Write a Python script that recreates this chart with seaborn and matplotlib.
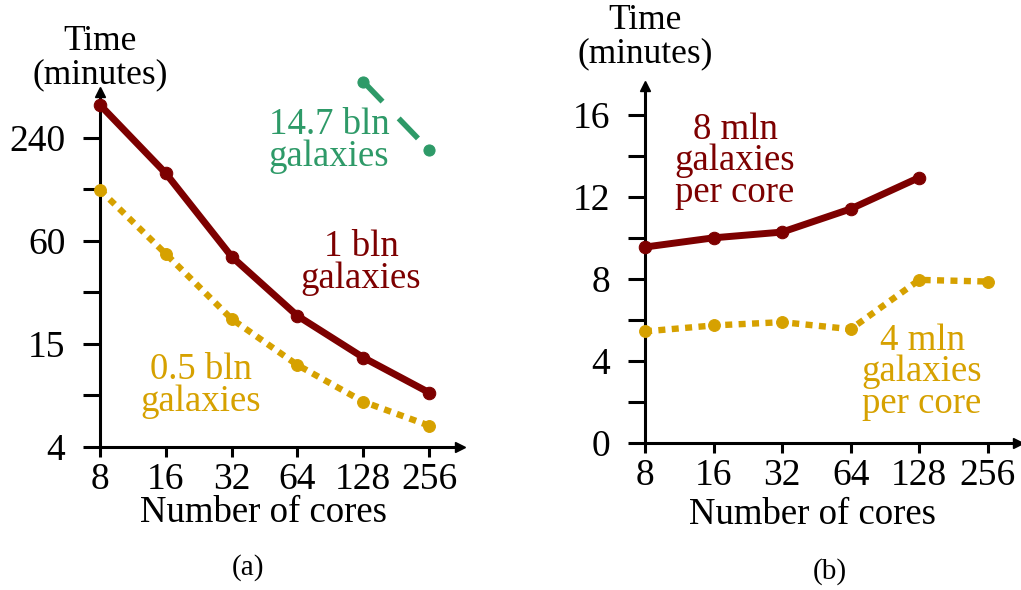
import numpy as np
import pandas as pd
import seaborn as sns
import matplotlib.pyplot as plt
from matplotlib.ticker import FixedLocator, NullLocator, FixedFormatter

# data
cores = [8, 16, 32, 64, 128, 256]
time_1bln = [374, 149, 48.6, 21.9, 12.5, 7.8]
time_05bln = [119, 50.4, 21.0, 11.3, 6.9, 5.0]
cores_147 = [128, 256]
time_147bln = [512, 204]
per_core_8mln = [9.55, 10.0, 10.28, 11.41, 12.94]
per_core_4mln = [5.44, 5.73, 5.89, 5.55, 7.95, 7.87]

left_ticks = [3.75, 7.5, 15, 30, 60, 120, 240]
left_labels = ['4', '', '15', '', '60', '', '240']
right_ticks = [0, 2, 4, 6, 8, 10, 12, 14, 16]
right_labels = ['0', '', '4', '', '8', '', '12', '', '16']

RED = '#7d0000'
GOLD = '#d6a100'
GREEN = '#2e9a68'

sns.set_style("ticks")
plt.rcParams['font.family'] = ['Liberation Serif', 'DejaVu Serif']
plt.rcParams['text.color'] = 'black'
FS = 26.5
TFS = 27

W, H = 1021, 590
fig = plt.figure(figsize=(W / 100, H / 100), dpi=100)


def px_axes(x0, x1, ybot, ytop):
    return fig.add_axes([x0 / W, 1 - ybot / H, (x1 - x0) / W, (ybot - ytop) / H])


def fx(x):
    return x / W


def fy(y):
    return 1 - y / H


ax1 = px_axes(100, 460, 447, 92)
ax2 = px_axes(645, 1018, 443, 86)

DOT = (0, (1.1, 1.0))

d1 = pd.DataFrame({'cores': cores, 'big': time_1bln, 'small': time_05bln})
sns.lineplot(data=d1, x='cores', y='big', ax=ax1, color=RED, lw=5,
             marker='o', ms=9, mec=RED, clip_on=False, zorder=3)
sns.lineplot(data=d1, x='cores', y='small', ax=ax1, color=GOLD, lw=4.6,
             ls=DOT, marker='o', ms=8.5, mec=GOLD, clip_on=False, zorder=3)
d1g = pd.DataFrame({'cores': cores_147, 't': time_147bln})
sns.lineplot(data=d1g, x='cores', y='t', ax=ax1, color=GREEN, lw=4.0,
             ls=(0, (5.0, 4.2)), marker='o', ms=8, mec=GREEN, clip_on=False, zorder=3)
for l in ax1.lines:
    l.set_dash_capstyle('butt')

d2 = pd.DataFrame({'cores': cores[:5], 't': per_core_8mln})
d3 = pd.DataFrame({'cores': cores, 't': per_core_4mln})
sns.lineplot(data=d2, x='cores', y='t', ax=ax2, color=RED, lw=5,
             marker='o', ms=9, mec=RED, clip_on=False, zorder=3)
sns.lineplot(data=d3, x='cores', y='t', ax=ax2, color=GOLD, lw=4.6,
             ls=DOT, marker='o', ms=8.5, mec=GOLD, clip_on=False, zorder=3)
for l in ax2.lines:
    l.set_dash_capstyle('butt')

ax1.set_xscale('log', base=2)
ax1.set_yscale('log', base=2)
ax1.set_xlim(8, 8 * 2 ** 5.47)
ax1.set_ylim(3.75, 445)
ax1.yaxis.set_major_locator(FixedLocator(left_ticks))
ax1.yaxis.set_major_formatter(FixedFormatter(left_labels))

ax2.set_xscale('log', base=2)
ax2.set_xlim(8, 8 * 2 ** 5.44)
ax2.set_ylim(0, 17.4)
ax2.yaxis.set_major_locator(FixedLocator(right_ticks))
ax2.yaxis.set_major_formatter(FixedFormatter(right_labels))

for ax in (ax1, ax2):
    ax.xaxis.set_major_locator(FixedLocator(cores))
    ax.xaxis.set_major_formatter(FixedFormatter([str(c) for c in cores]))
    ax.xaxis.set_minor_locator(NullLocator())
    ax.yaxis.set_minor_locator(NullLocator())
    ax.set_xlabel('')
    ax.set_ylabel('')
    ax.set_facecolor('none')
    sns.despine(ax=ax)
    for s in ('left', 'bottom'):
        ax.spines[s].set_linewidth(2.2)
        ax.spines[s].set_color('black')
    ax.tick_params(axis='y', length=12, width=2.2, pad=13, labelsize=TFS, colors='black')
    ax.tick_params(axis='x', length=7, width=2.2, pad=4, labelsize=TFS, colors='black')
    ax.plot(1, 0, '>k', ms=7, transform=ax.transAxes, clip_on=False)
    ax.plot(0, 1, '^k', ms=7, transform=ax.transAxes, clip_on=False)

# text labels
fig.text(fx(100), fy(58), 'Time\n(minutes)', ha='center', va='center',
         fontsize=25.5, linespacing=1.0)
fig.text(fx(645), fy(37), 'Time\n(minutes)', ha='center', va='center',
         fontsize=25.5, linespacing=1.0)
fig.text(fx(329), fy(141), '14.7 bln\ngalaxies', ha='center', va='center',
         fontsize=FS, color=GREEN, linespacing=0.92)
fig.text(fx(361), fy(263), '1 bln\ngalaxies', ha='center', va='center',
         fontsize=FS, color=RED, linespacing=0.92)
fig.text(fx(201), fy(386), '0.5 bln\ngalaxies', ha='center', va='center',
         fontsize=FS, color=GOLD, linespacing=0.92)
fig.text(fx(735), fy(161), '8 mln\ngalaxies\nper core', ha='center', va='center',
         fontsize=FS, color=RED, linespacing=0.88)
fig.text(fx(922), fy(372), '4 mln\ngalaxies\nper core', ha='center', va='center',
         fontsize=FS, color=GOLD, linespacing=0.88)
fig.text(fx(264), fy(513), 'Number of cores', ha='center', va='center', fontsize=FS)
fig.text(fx(812), fy(515), 'Number of cores', ha='center', va='center', fontsize=FS)
fig.text(fx(248), fy(568), '(a)', ha='center', va='center', fontsize=21)
fig.text(fx(830), fy(572), '(b)', ha='center', va='center', fontsize=21)

fig.savefig('out.png', dpi=100, facecolor='white')
